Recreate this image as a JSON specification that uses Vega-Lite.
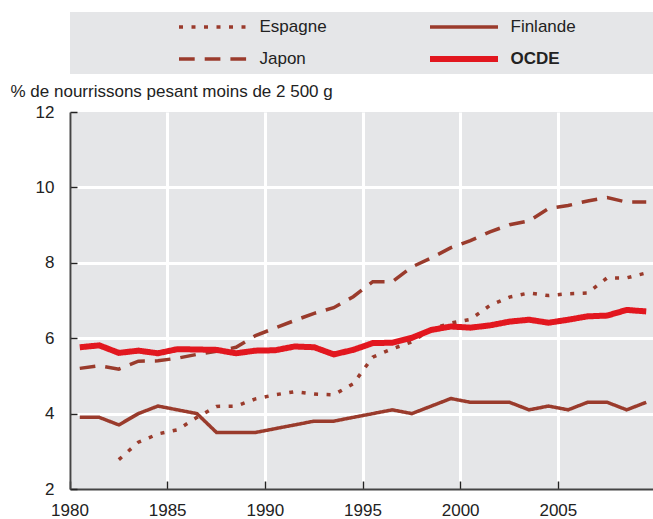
{
  "$schema": "https://vega.github.io/schema/vega-lite/v6.json",
  "autosize": {"type": "none"},
  "padding": {"left": 70, "top": 112, "right": 0, "bottom": 30},
  "width": 586,
  "height": 377,
  "background": "white",
  "config": {
    "view": {"fill": "#e5e6e8", "stroke": null},
    "font": "Liberation Sans",
    "axis": {"labelFont": "Liberation Sans", "labelColor": "#222", "titleFont": "Liberation Sans"},
    "legend": {"labelFont": "Liberation Sans"}
  },
  "data": {"values": [
    {"year":1980,"country":"Finlande","value":3.9},{"year":1981,"country":"Finlande","value":3.9},{"year":1982,"country":"Finlande","value":3.7},{"year":1983,"country":"Finlande","value":4.0},{"year":1984,"country":"Finlande","value":4.2},{"year":1985,"country":"Finlande","value":4.1},{"year":1986,"country":"Finlande","value":4.0},{"year":1987,"country":"Finlande","value":3.5},{"year":1988,"country":"Finlande","value":3.5},{"year":1989,"country":"Finlande","value":3.5},{"year":1990,"country":"Finlande","value":3.6},{"year":1991,"country":"Finlande","value":3.7},{"year":1992,"country":"Finlande","value":3.8},{"year":1993,"country":"Finlande","value":3.8},{"year":1994,"country":"Finlande","value":3.9},{"year":1995,"country":"Finlande","value":4.0},{"year":1996,"country":"Finlande","value":4.1},{"year":1997,"country":"Finlande","value":4.0},{"year":1998,"country":"Finlande","value":4.2},{"year":1999,"country":"Finlande","value":4.4},{"year":2000,"country":"Finlande","value":4.3},{"year":2001,"country":"Finlande","value":4.3},{"year":2002,"country":"Finlande","value":4.3},{"year":2003,"country":"Finlande","value":4.1},{"year":2004,"country":"Finlande","value":4.2},{"year":2005,"country":"Finlande","value":4.1},{"year":2006,"country":"Finlande","value":4.3},{"year":2007,"country":"Finlande","value":4.3},{"year":2008,"country":"Finlande","value":4.1},{"year":2009,"country":"Finlande","value":4.3},
    {"year":1980,"country":"Japon","value":5.2},{"year":1981,"country":"Japon","value":5.27},{"year":1982,"country":"Japon","value":5.18},{"year":1983,"country":"Japon","value":5.39},{"year":1984,"country":"Japon","value":5.4},{"year":1985,"country":"Japon","value":5.47},{"year":1986,"country":"Japon","value":5.57},{"year":1987,"country":"Japon","value":5.65},{"year":1988,"country":"Japon","value":5.76},{"year":1989,"country":"Japon","value":6.07},{"year":1990,"country":"Japon","value":6.27},{"year":1991,"country":"Japon","value":6.47},{"year":1992,"country":"Japon","value":6.66},{"year":1993,"country":"Japon","value":6.81},{"year":1994,"country":"Japon","value":7.1},{"year":1995,"country":"Japon","value":7.5},{"year":1996,"country":"Japon","value":7.5},{"year":1997,"country":"Japon","value":7.89},{"year":1998,"country":"Japon","value":8.13},{"year":1999,"country":"Japon","value":8.4},{"year":2000,"country":"Japon","value":8.59},{"year":2001,"country":"Japon","value":8.82},{"year":2002,"country":"Japon","value":9.01},{"year":2003,"country":"Japon","value":9.11},{"year":2004,"country":"Japon","value":9.44},{"year":2005,"country":"Japon","value":9.52},{"year":2006,"country":"Japon","value":9.64},{"year":2007,"country":"Japon","value":9.73},{"year":2008,"country":"Japon","value":9.61},{"year":2009,"country":"Japon","value":9.61},
    {"year":1982,"country":"Espagne","value":2.78},{"year":1983,"country":"Espagne","value":3.24},{"year":1984,"country":"Espagne","value":3.46},{"year":1985,"country":"Espagne","value":3.57},{"year":1986,"country":"Espagne","value":3.9},{"year":1987,"country":"Espagne","value":4.19},{"year":1988,"country":"Espagne","value":4.2},{"year":1989,"country":"Espagne","value":4.39},{"year":1990,"country":"Espagne","value":4.5},{"year":1991,"country":"Espagne","value":4.58},{"year":1992,"country":"Espagne","value":4.52},{"year":1993,"country":"Espagne","value":4.5},{"year":1994,"country":"Espagne","value":4.79},{"year":1995,"country":"Espagne","value":5.5},{"year":1996,"country":"Espagne","value":5.72},{"year":1997,"country":"Espagne","value":5.9},{"year":1998,"country":"Espagne","value":6.25},{"year":1999,"country":"Espagne","value":6.4},{"year":2000,"country":"Espagne","value":6.5},{"year":2001,"country":"Espagne","value":6.87},{"year":2002,"country":"Espagne","value":7.09},{"year":2003,"country":"Espagne","value":7.2},{"year":2004,"country":"Espagne","value":7.13},{"year":2005,"country":"Espagne","value":7.18},{"year":2006,"country":"Espagne","value":7.2},{"year":2007,"country":"Espagne","value":7.6},{"year":2008,"country":"Espagne","value":7.6},{"year":2009,"country":"Espagne","value":7.73},
    {"year":1980,"country":"OCDE","value":5.76},{"year":1981,"country":"OCDE","value":5.81},{"year":1982,"country":"OCDE","value":5.61},{"year":1983,"country":"OCDE","value":5.67},{"year":1984,"country":"OCDE","value":5.6},{"year":1985,"country":"OCDE","value":5.71},{"year":1986,"country":"OCDE","value":5.7},{"year":1987,"country":"OCDE","value":5.69},{"year":1988,"country":"OCDE","value":5.6},{"year":1989,"country":"OCDE","value":5.67},{"year":1990,"country":"OCDE","value":5.68},{"year":1991,"country":"OCDE","value":5.78},{"year":1992,"country":"OCDE","value":5.76},{"year":1993,"country":"OCDE","value":5.57},{"year":1994,"country":"OCDE","value":5.69},{"year":1995,"country":"OCDE","value":5.87},{"year":1996,"country":"OCDE","value":5.88},{"year":1997,"country":"OCDE","value":6.01},{"year":1998,"country":"OCDE","value":6.22},{"year":1999,"country":"OCDE","value":6.31},{"year":2000,"country":"OCDE","value":6.28},{"year":2001,"country":"OCDE","value":6.34},{"year":2002,"country":"OCDE","value":6.44},{"year":2003,"country":"OCDE","value":6.49},{"year":2004,"country":"OCDE","value":6.41},{"year":2005,"country":"OCDE","value":6.49},{"year":2006,"country":"OCDE","value":6.58},{"year":2007,"country":"OCDE","value":6.6},{"year":2008,"country":"OCDE","value":6.75},{"year":2009,"country":"OCDE","value":6.71}
  ]},
  "mark": {"type": "line", "strokeCap": "butt", "strokeJoin": "miter"},
  "encoding": {
    "x": {
      "field": "year", "type": "ordinal",
      "scale": {"type": "band", "paddingInner": 0, "paddingOuter": 0},
      "axis": {
        "title": null, "values": [1980, 1985, 1990, 1995, 2000, 2005],
        "bandPosition": 0, "labelAngle": 0, "labelOffset": -9.77,
        "labelFontSize": 17, "labelPadding": 21, "labelBaseline": "top",
        "tickSize": -8, "tickColor": "#222", "tickWidth": 1.5,
        "domainColor": "#444", "domainWidth": 2,
        "grid": true, "gridColor": "white", "gridWidth": 3
      }
    },
    "y": {
      "field": "value", "type": "quantitative",
      "scale": {"domain": [2, 12], "nice": false, "zero": false},
      "axis": {
        "values": [2, 4, 6, 8, 10, 12],
        "title": "% de nourrissons pesant moins de 2 500 g",
        "titleAngle": 0, "titleAlign": "left", "titleBaseline": "alphabetic",
        "titleX": -60, "titleY": -16, "titleFontSize": 17, "titleFontWeight": "normal", "titleColor": "#222",
        "labelFontSize": 17, "labelPadding": 23,
        "tickSize": -7, "tickColor": "#222", "tickWidth": 1.5,
        "domainColor": "#444", "domainWidth": 2,
        "grid": true, "gridColor": "white", "gridWidth": 3,
        "gridOpacity": {"condition": {"test": "datum.value == 12 || datum.value == 2", "value": 0}, "value": 1}
      }
    },
    "color": {
      "field": "country", "type": "nominal",
      "scale": {"domain": ["Espagne", "Finlande", "Japon", "OCDE"], "range": ["#9a3b2c", "#9a3b2c", "#9a3b2c", "#e2171f"]},
      "legend": {
        "title": " ", "titleOrient": "right", "titlePadding": 90, "titleFontSize": 17,
        "orient": "none", "legendX": 0, "legendY": -100,
        "direction": "horizontal", "columns": 2,
        "fillColor": "#e5e6e8", "padding": 6.5,
        "symbolType": "stroke", "symbolSize": 4624,
        "symbolOffset": 99.5, "labelOffset": 9.5,
        "columnPadding": -11, "rowPadding": 14, "clipHeight": 17,
        "labelFontSize": 17, "labelColor": "#222", "labelLimit": 0,
        "encode": {"labels": {"update": {
          "fontWeight": {"signal": "datum.value === 'OCDE' ? 'bold' : 'normal'"}
        }}}
      }
    },
    "strokeDash": {
      "field": "country", "type": "nominal",
      "scale": {"domain": ["Espagne", "Finlande", "Japon", "OCDE"], "range": [[4, 8.5], [1, 0], [15.7, 10], [1, 0]]},
      "legend": {"title": " "}
    },
    "strokeWidth": {
      "field": "country", "type": "nominal",
      "scale": {"type": "ordinal", "domain": ["Espagne", "Finlande", "Japon", "OCDE"], "range": [3.5, 3.5, 3.5, 6]},
      "legend": {"title": " "}
    }
  }
}
